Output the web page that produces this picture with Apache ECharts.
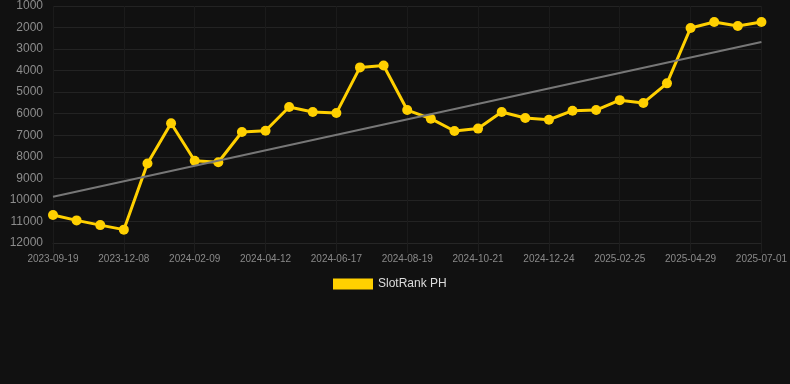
<!DOCTYPE html>
<html>
<head>
<meta charset="utf-8">
<script src="https://cdn.jsdelivr.net/npm/echarts@6/dist/echarts.min.js"></script>
<style>
html,body{margin:0;padding:0;background:#111111;}
#chart{width:790px;height:384px;}
</style>
</head>
<body>
<div id="chart"></div>
<script>
const categories = [
  '2023-09-19','2023-10-15','2023-11-11','2023-12-08','2023-12-29','2024-01-19',
  '2024-02-09','2024-03-01','2024-03-22','2024-04-12','2024-05-04','2024-05-26',
  '2024-06-17','2024-07-08','2024-07-29','2024-08-19','2024-09-09','2024-09-30',
  '2024-10-21','2024-11-11','2024-12-03','2024-12-24','2025-01-14','2025-02-04',
  '2025-02-25','2025-03-18','2025-04-08','2025-04-29','2025-05-20','2025-06-10',
  '2025-07-01'
];
const rankValues = [
  10700, 10950, 11170, 11380, 8310, 6440,
  8180, 8250, 6850, 6790, 5690, 5920,
  5970, 3850, 3760, 5830, 6230, 6800,
  6690, 5920, 6200, 6280, 5860, 5830,
  5370, 5500, 4590, 2020, 1740, 1930,
  1740
];
const trendStart = 9856;
const trendEnd = 2667;
const seriesName = 'SlotRank PH';

const chart = echarts.init(document.getElementById('chart'));
chart.setOption({
  backgroundColor: '#111111',
  animation: false,
  grid: { left: 53, right: 28, top: 6, bottom: 141 },
  legend: {
    data: [{ name: seriesName, icon: 'rect' }],
    top: 273,
    left: 328,
    itemWidth: 40,
    itemHeight: 11,
    itemGap: 10,
    textStyle: { color: '#dddddd', fontSize: 12, fontFamily: 'Liberation Sans, Arial, sans-serif' }
  },
  xAxis: {
    type: 'category',
    data: categories,
    boundaryGap: false,
    axisLine: { show: true, lineStyle: { color: '#262626' } },
    axisTick: { show: true, interval: 2, length: 10, lineStyle: { color: '#1e1e1e' } },
    axisLabel: { interval: 2, color: '#8a8a8a', fontSize: 10, fontFamily: 'Liberation Sans, Arial, sans-serif', margin: 11 },
    splitLine: { show: true, interval: 2, lineStyle: { color: '#1b1b1b' } }
  },
  yAxis: {
    type: 'value',
    inverse: true,
    min: 1000,
    max: 12000,
    interval: 1000,
    axisLine: { show: false },
    axisTick: { show: false },
    axisLabel: { color: '#8c8c8c', fontSize: 12, fontFamily: 'Liberation Sans, Arial, sans-serif', margin: 10, formatter: function (v) { return String(v); } },
    splitLine: { show: true, lineStyle: { color: '#232323' } }
  },
  series: [{
    name: seriesName,
    type: 'line',
    data: rankValues,
    symbol: 'circle',
    symbolSize: 10,
    itemStyle: { color: '#ffd000' },
    lineStyle: { color: '#ffd000', width: 3 },
    markLine: {
      silent: true,
      symbol: ['none', 'none'],
      label: { show: false },
      lineStyle: { color: '#777777', width: 2, type: 'solid' },
      data: [[
        { coord: [categories[0], trendStart] },
        { coord: [categories[categories.length - 1], trendEnd] }
      ]]
    }
  }]
});
</script>
</body>
</html>
